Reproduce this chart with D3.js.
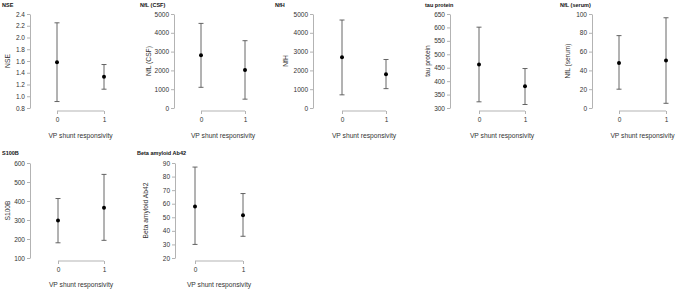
<!DOCTYPE html>
<html>
<head>
<meta charset="utf-8">
<script src="https://cdn.jsdelivr.net/npm/d3@7"></script>
<style>
  html, body { margin: 0; padding: 0; background: #fff; }
  svg { display: block; font-family: "Liberation Sans", Arial, sans-serif; }
</style>
</head>
<body>
<svg id="chart" width="677" height="289"></svg>
<script>
// ---- data ----
const panelTitles = ["NSE", "NfL (CSF)", "NfH", "tau protein", "NfL (serum)", "S100B", "Beta amyloid Ab42"];
const categories = ["0", "1"];
const xAxisTitle = "VP shunt responsivity";
const means = [[1.58, 1.33], [2800, 2020], [2700, 1800], [462, 381], [48, 50.5], [297, 365], [58, 51.5]];
const lowers = [[0.91, 1.12], [1100, 470], [700, 1030], [323, 313], [20, 5], [180, 193], [30, 36]];
const uppers = [[2.25, 1.54], [4500, 3580], [4680, 2580], [601, 447], [77, 96], [413, 540], [87, 67.5]];
const yTicks = [
  [0.8, 1.0, 1.2, 1.4, 1.6, 1.8, 2.0, 2.2, 2.4],
  [0, 1000, 2000, 3000, 4000, 5000],
  [0, 1000, 2000, 3000, 4000, 5000],
  [300, 350, 400, 450, 500, 550, 600, 650],
  [0, 20, 40, 60, 80, 100],
  [100, 200, 300, 400, 500, 600],
  [20, 30, 40, 50, 60, 70, 80, 90]
];
const tickFormats = [".1f", "d", "d", "d", "d", "d", "d"];

// ---- layout ----
const layout = [
  {title: 2,   axis: 30,  x0: 57,  x1: 104, ytitle: 7,   row: 0},
  {title: 140, axis: 174, x0: 201, x1: 245, ytitle: 148, row: 0},
  {title: 275, axis: 313, x0: 342, x1: 386, ytitle: 285, row: 0},
  {title: 425, axis: 450, x0: 479, x1: 525, ytitle: 427, row: 0},
  {title: 560, axis: 592, x0: 619, x1: 666, ytitle: 567, row: 0},
  {title: 2,   axis: 30,  x0: 58,  x1: 104, ytitle: 7,   row: 1},
  {title: 137, axis: 175, x0: 195, x1: 243, ytitle: 145, row: 1}
];
const rows = [
  {titleY: 7,   top: 14,  bottom: 108, xAxisY: 111, xTitleY: 138},
  {titleY: 155, top: 163, bottom: 258, xAxisY: 261, xTitleY: 287}
];

const svg = d3.select("#chart");
const axisColor = "#b3b3b3";
const textColor = "#333333";

panelTitles.forEach((t, i) => {
  const L = layout[i], R = rows[L.row];
  const g = svg.append("g");
  const ticks = yTicks[i];
  const y = d3.scaleLinear().domain([d3.min(ticks), d3.max(ticks)]).range([R.bottom, R.top]);
  const x = d3.scalePoint().domain(categories).range([L.x0, L.x1]);

  // title
  g.append("text").attr("x", L.title).attr("y", R.titleY)
    .attr("font-size", 5.5).attr("font-weight", "bold").attr("fill", "#111").text(t);

  // y axis
  const yAxis = d3.axisLeft(y).tickValues(ticks).tickFormat(d3.format(tickFormats[i]))
    .tickSize(3).tickPadding(2).tickSizeOuter(0);
  const ya = g.append("g").attr("transform", `translate(${L.axis},0)`).call(yAxis);
  ya.select(".domain").attr("stroke", axisColor);
  ya.selectAll(".tick line").attr("stroke", axisColor);
  ya.selectAll(".tick text").attr("font-size", 6.5).attr("fill", textColor).attr("font-family", "Liberation Sans, Arial, sans-serif");

  // x axis
  const xAxis = d3.axisBottom(x).tickSize(3).tickPadding(3).tickSizeOuter(0);
  const xa = g.append("g").attr("transform", `translate(0,${R.xAxisY})`).call(xAxis);
  xa.select(".domain").attr("stroke", axisColor).attr("d", `M${L.x0},0H${L.x1}`);
  xa.selectAll(".tick line").attr("stroke", axisColor);
  xa.selectAll(".tick text").attr("font-size", 6.5).attr("fill", textColor).attr("font-family", "Liberation Sans, Arial, sans-serif");

  // x title
  g.append("text").attr("x", (L.x0 + L.x1) / 2).attr("y", R.xTitleY)
    .attr("text-anchor", "middle").attr("font-size", 6.7).attr("fill", textColor).text(xAxisTitle);
  // y title
  g.append("text").attr("transform", `translate(${L.ytitle + 2.5},${(R.top + R.bottom) / 2}) rotate(-90)`)
    .attr("text-anchor", "middle").attr("font-size", 6.7).attr("fill", textColor).text(t);

  // error bars
  categories.forEach((c, j) => {
    const cx = x(c);
    const eb = g.append("g").attr("stroke", "#555").attr("stroke-width", 0.9);
    eb.append("line").attr("x1", cx).attr("x2", cx).attr("y1", y(lowers[i][j])).attr("y2", y(uppers[i][j]));
    eb.append("line").attr("x1", cx - 2.5).attr("x2", cx + 2.5).attr("y1", y(lowers[i][j])).attr("y2", y(lowers[i][j]));
    eb.append("line").attr("x1", cx - 2.5).attr("x2", cx + 2.5).attr("y1", y(uppers[i][j])).attr("y2", y(uppers[i][j]));
    g.append("circle").attr("cx", cx).attr("cy", y(means[i][j])).attr("r", 2).attr("fill", "#000");
  });
});
</script>
</body>
</html>
